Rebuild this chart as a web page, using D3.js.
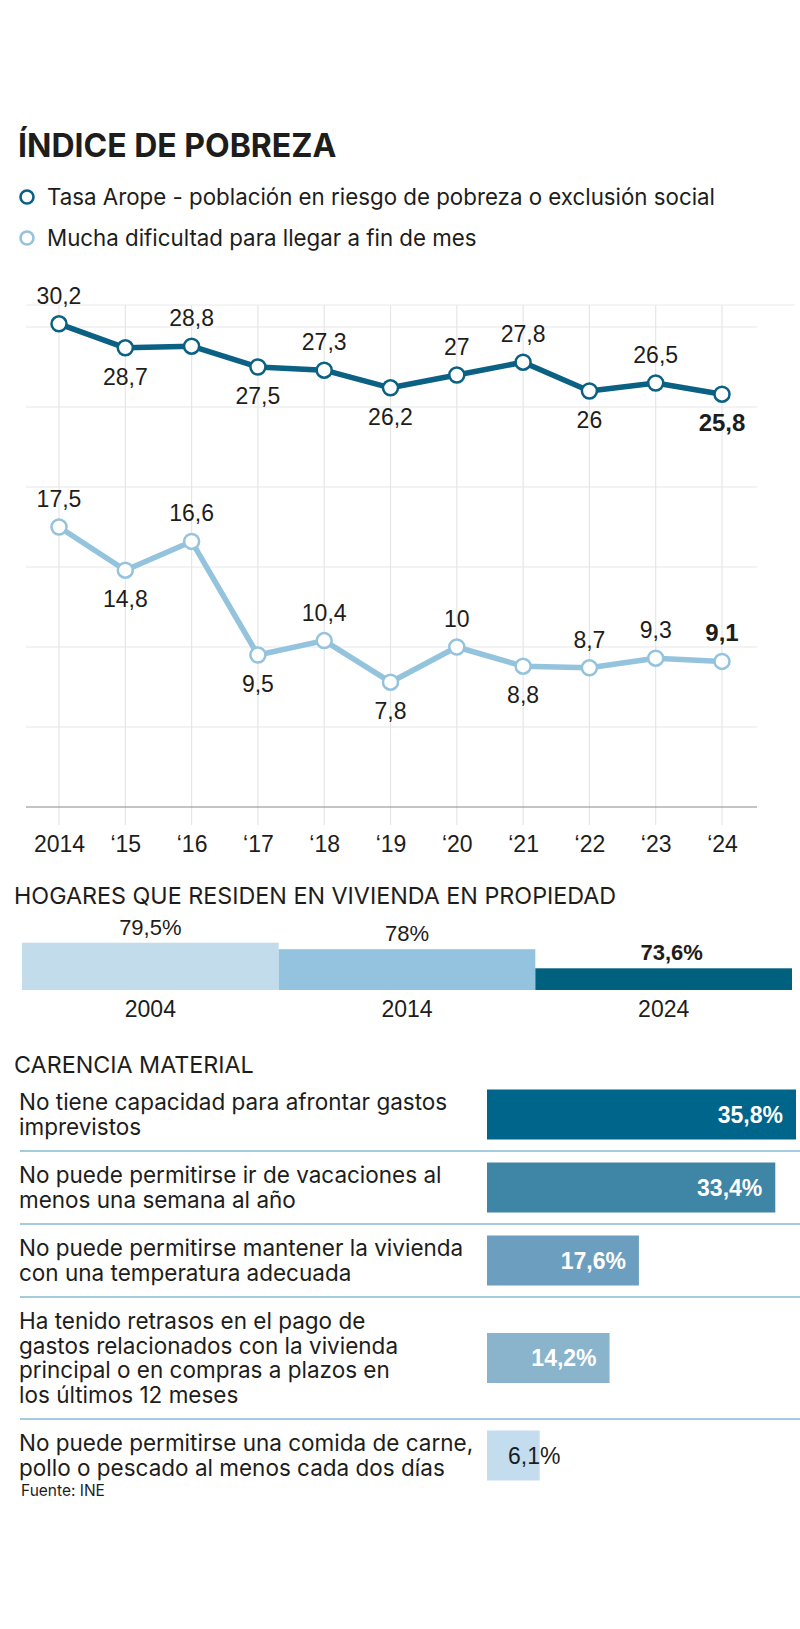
<!DOCTYPE html>
<html>
<head>
<meta charset="utf-8">
<script src="https://cdn.jsdelivr.net/npm/d3@7"></script>
<style>
  body { margin: 0; background: #fff; }
  svg { display: block; }
  .sans { font-family: Inter, "Liberation Sans", sans-serif; }
  .num { font-family: "Liberation Sans", Arial, sans-serif; }
</style>
</head>
<body>
<svg id="chart" width="800" height="1629"></svg>
<script>
// --- data ---
const years = ['2014', '\u201815', '\u201816', '\u201817', '\u201818', '\u201819', '\u201820', '\u201821', '\u201822', '\u201823', '\u201824'];
const arope = [30.2, 28.7, 28.8, 27.5, 27.3, 26.2, 27, 27.8, 26, 26.5, 25.8];
const dificultad = [17.5, 14.8, 16.6, 9.5, 10.4, 7.8, 10, 8.8, 8.7, 9.3, 9.1];
const aropeLabelSide = ['up', 'down', 'up', 'down', 'up', 'down', 'up', 'up', 'down', 'up', 'down'];
const dificultadLabelSide = ['up', 'down', 'up', 'down', 'up', 'down', 'up', 'down', 'up', 'up', 'up'];
const yTicks = [0, 5, 10, 15, 20, 25, 30];

const ownYears = ['2004', '2014', '2024'];
const ownValues = [79.5, 78, 73.6];

const lackItems = [
  ['No tiene capacidad para afrontar gastos', 'imprevistos'],
  ['No puede permitirse ir de vacaciones al', 'menos una semana al año'],
  ['No puede permitirse mantener la vivienda', 'con una temperatura adecuada'],
  ['Ha tenido retrasos en el pago de', 'gastos relacionados con la vivienda', 'principal o en compras a plazos en', 'los últimos 12 meses'],
  ['No puede permitirse una comida de carne,', 'pollo o pescado al menos cada dos días']
];
const lackValues = [35.8, 33.4, 17.6, 14.2, 6.1];

const dark = '#0b6184';
const light = '#94c3de';
const lackColors = ['#00658a', '#3f85a6', '#6c9fbf', '#8ab3cc', '#c3dcee'];
const ownColors = ['#c3dcec', '#93c3de', '#00617f'];

const fmtNum = v => (Math.round(v * 10) / 10).toString().replace('.', ',');

const svg = d3.select('#chart');
svg.append('rect').attr('width', 800).attr('height', 1629).attr('fill', '#fff');

// --- header ---
svg.append('text').attr('class', 'sans')
  .attr('x', 18).attr('y', 157)
  .attr('font-size', 32).attr('font-weight', 700).attr('fill', '#1d1d1b')
  .text('ÍNDICE DE POBREZA');

const legend = [
  { label: 'Tasa Arope - población en riesgo de pobreza o exclusión social', color: dark, y: 197 },
  { label: 'Mucha dificultad para llegar a fin de mes', color: light, y: 238 }
];
legend.forEach(l => {
  svg.append('circle').attr('cx', 27).attr('cy', l.y).attr('r', 6.5)
    .attr('fill', '#fff').attr('stroke', l.color).attr('stroke-width', 2.6);
  svg.append('text').attr('class', 'sans')
    .attr('x', 47).attr('y', l.y + 8)
    .attr('font-size', 22.3).attr('fill', '#1d1d1b')
    .text(l.label);
});

// --- line chart ---
const x = d3.scalePoint().domain(years).range([59, 722]);
const y = d3.scaleLinear().domain([0, 30]).range([807, 327]);

const grid = svg.append('g');
grid.append('line').attr('x1', 26).attr('x2', 795).attr('y1', 305).attr('y2', 305)
  .attr('stroke', '#ececec').attr('stroke-width', 1.2);
grid.selectAll('.hg').data(yTicks.filter(t => t > 0)).join('line')
  .attr('x1', 26).attr('x2', 757)
  .attr('y1', d => y(d)).attr('y2', d => y(d))
  .attr('stroke', '#e8e8e8').attr('stroke-width', 1.2);
grid.selectAll('.vg').data(years).join('line')
  .attr('x1', d => x(d)).attr('x2', d => x(d))
  .attr('y1', 305).attr('y2', 825)
  .attr('stroke', '#e6e6e6').attr('stroke-width', 1.2);

const xAxis = svg.append('g')
  .attr('transform', `translate(0,${y(0)})`)
  .call(d3.axisBottom(x).tickSize(0).tickPadding(0));
xAxis.select('.domain').remove();
svg.append('line').attr('x1', 26).attr('x2', 757).attr('y1', y(0)).attr('y2', y(0))
  .attr('stroke', '#8a8a8a').attr('stroke-width', 1.2);
xAxis.selectAll('text')
  .attr('class', 'num').attr('font-size', 23).attr('fill', '#1d1d1b')
  .attr('dy', null).attr('y', 45);

function drawSeries(values, sides, color) {
  const pts = values.map((v, i) => ({ year: years[i], v, side: sides[i], last: i === values.length - 1 }));
  svg.append('path').datum(pts)
    .attr('fill', 'none').attr('stroke', color).attr('stroke-width', 5.5)
    .attr('stroke-linejoin', 'round')
    .attr('d', d3.line().x(d => x(d.year)).y(d => y(d.v)));
  svg.append('g').selectAll('circle').data(pts).join('circle')
    .attr('cx', d => x(d.year)).attr('cy', d => y(d.v)).attr('r', 7.5)
    .attr('fill', '#fff').attr('stroke', color).attr('stroke-width', 2.5);
  svg.append('g').selectAll('text').data(pts).join('text')
    .attr('class', 'num')
    .attr('x', d => x(d.year))
    .attr('y', d => y(d.v) + (d.side === 'up' ? -20 : 37))
    .attr('text-anchor', 'middle')
    .attr('font-size', d => d.last ? 24 : 23)
    .attr('font-weight', d => d.last ? 700 : 400)
    .attr('fill', '#1d1d1b')
    .text(d => fmtNum(d.v));
}
drawSeries(dificultad, dificultadLabelSide, light);
drawSeries(arope, aropeLabelSide, dark);

// --- hogares en propiedad ---
svg.append('text').attr('class', 'sans')
  .attr('x', 14).attr('y', 904)
  .attr('font-size', 23.3).attr('fill', '#1d1d1b')
  .text('HOGARES QUE RESIDEN EN VIVIENDA EN PROPIEDAD');

const ox = d3.scaleBand().domain(ownYears).range([22, 792]).padding(0);
const oy = d3.scaleLinear().domain([68.6, 79.5]).range([990, 942.7]);

svg.append('g').selectAll('rect').data(ownValues).join('rect')
  .attr('x', (d, i) => ox(ownYears[i]))
  .attr('width', ox.bandwidth())
  .attr('y', d => oy(d))
  .attr('height', d => oy.range()[0] - oy(d))
  .attr('fill', (d, i) => ownColors[i]);

svg.append('g').selectAll('text').data(ownValues).join('text')
  .attr('class', 'num')
  .attr('x', (d, i) => ox(ownYears[i]) + ox.bandwidth() / 2 + (i === 2 ? 8 : 0))
  .attr('y', d => oy(d) - 8)
  .attr('text-anchor', 'middle')
  .attr('font-size', 22)
  .attr('font-weight', (d, i) => i === 2 ? 700 : 400)
  .attr('fill', '#1d1d1b')
  .text(d => fmtNum(d) + '%');

const oAxis = svg.append('g')
  .attr('transform', 'translate(0,990)')
  .call(d3.axisBottom(ox).tickSize(0).tickPadding(0));
oAxis.select('.domain').remove();
oAxis.selectAll('text')
  .attr('class', 'num').attr('font-size', 23).attr('fill', '#1d1d1b')
  .attr('dy', null).attr('y', 27);

// --- carencia material ---
svg.append('text').attr('class', 'sans')
  .attr('x', 14).attr('y', 1073)
  .attr('font-size', 23.3).attr('fill', '#1d1d1b')
  .text('CARENCIA MATERIAL');

const lineH = 24.5;
let rowTop = 1078;
const rows = lackItems.map((lines, i) => {
  const h = lines.length * lineH + 24;
  const r = { lines, value: lackValues[i], top: rowTop, h, center: rowTop + h / 2 };
  rowTop += h;
  return r;
});

const lx = d3.scaleLinear().domain([0, d3.max(lackValues)]).range([487, 796]);
const barH = 50;
const fits = d => lx(d.value) - lx(0) > 60;

const rowG = svg.append('g').selectAll('g').data(rows).join('g');

rowG.filter((d, i) => i > 0).append('line')
  .attr('x1', 20).attr('x2', 800)
  .attr('y1', d => d.top).attr('y2', d => d.top)
  .attr('stroke', '#84bcd4').attr('stroke-width', 1.5);

rowG.append('text').attr('class', 'sans')
  .attr('font-size', 22.5).attr('fill', '#1d1d1b')
  .each(function (d) {
    const t = d3.select(this);
    const first = d.center - (d.lines.length - 1) * lineH / 2 + 8;
    d.lines.forEach((ln, j) => {
      t.append('tspan').attr('x', 19).attr('y', first + j * lineH).text(ln);
    });
  });

rowG.append('rect')
  .attr('x', lx(0))
  .attr('y', d => d.center - barH / 2)
  .attr('width', d => lx(d.value) - lx(0))
  .attr('height', barH)
  .attr('fill', (d, i) => lackColors[i]);

rowG.append('text').attr('class', 'num')
  .attr('x', d => fits(d) ? lx(d.value) - 13 : lx(0) + 21)
  .attr('y', d => d.center + 8)
  .attr('text-anchor', d => fits(d) ? 'end' : 'start')
  .attr('font-size', 23)
  .attr('font-weight', d => fits(d) ? 700 : 400)
  .attr('fill', d => fits(d) ? '#fff' : '#1d1d1b')
  .text(d => fmtNum(d.value) + '%');

svg.append('text').attr('class', 'sans')
  .attr('x', 21).attr('y', 1496)
  .attr('font-size', 15.5).attr('fill', '#1d1d1b')
  .text('Fuente: INE');
</script>
</body>
</html>
